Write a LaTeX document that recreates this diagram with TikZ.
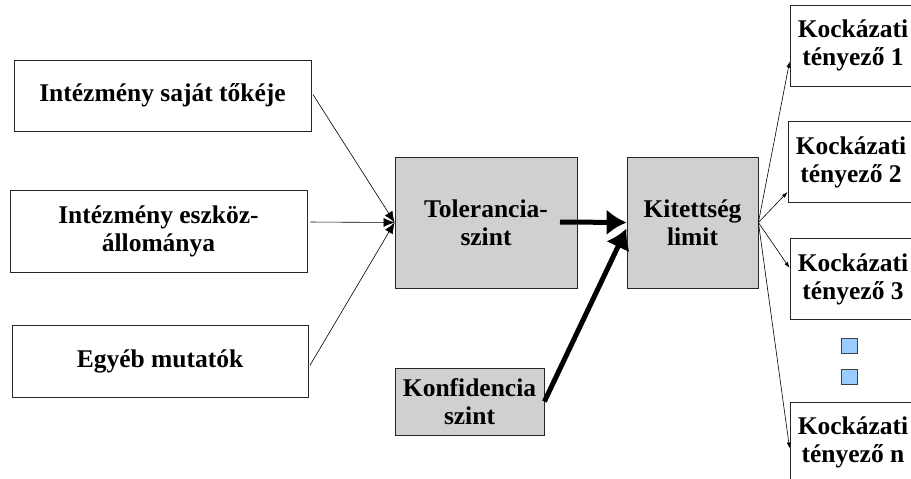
\documentclass[tikz,border=0pt]{standalone}
\usepackage{fontspec}
\setmainfont{Liberation Serif}
\usetikzlibrary{arrows.meta}
\definecolor{boxgray}{HTML}{D0D0D0}
\definecolor{dotblue}{HTML}{99CCFF}
\begin{document}
\begin{tikzpicture}
  [x=1pt,y=-1pt,
   every node/.style={font=\bfseries\fontsize{25.5}{28}\selectfont,align=center,inner sep=0pt},
   whitebox/.style={rectangle,draw=black!85,line width=0.8pt,fill=white,minimum width=297pt},
   graybox/.style={rectangle,draw=black!85,line width=0.8pt,fill=boxgray},
   riskbox/.style={rectangle,draw=black!85,line width=0.8pt,fill=white,minimum width=126pt,minimum height=81pt},
   dotbox/.style={rectangle,draw=black!75,line width=0.6pt,fill=dotblue,minimum width=16pt,minimum height=15pt},
   thin/.style={-{Latex[length=11pt,width=9pt]},line width=0.6pt,shorten <=3pt},
   tiny/.style={-{Latex[length=6pt,width=4pt]},line width=0.6pt},
   thick/.style={-{Latex[length=20pt,width=26pt]},line width=5pt}]
    \useasboundingbox (0,0) rectangle (911,479);
    \clip (0,0) rectangle (911,479);

    \node (b1) [whitebox,minimum height=71pt] at (162.5,95.5) {Intézmény saját tőkéje};
    \node (b2) [whitebox,minimum height=82pt] at (158.5,231) {Intézmény eszköz-\\állománya};
    \node (b3) [whitebox,minimum height=72pt,minimum width=296pt] at (160,361) {Egyéb mutatók};

    \node (tol)  [graybox,minimum width=182pt,minimum height=131pt] at (486,222.5) {Tolerancia-\\szint};
    \node (kit)  [graybox,minimum width=131pt,minimum height=131pt] at (692.5,222.5) {Kitettség\\limit};
    \node (konf) [graybox,minimum width=149pt,minimum height=67pt] at (469.5,401.5) {Konfidencia\\szint};

    \node (k1) [riskbox] at (853,45.5)  {Kockázati\\tényező 1};
    \node (k2) [riskbox] at (851,162)   {Kockázati\\tényező 2};
    \node (k3) [riskbox] at (853,279)   {Kockázati\\tényező 3};
    \node (kn) [riskbox] at (853,442.5) {Kockázati\\tényező n};

    \node (d1) [dotbox] at (849.5,345.5) {};
    \node (d2) [dotbox] at (849.5,377)   {};

    \coordinate (tolout) at (560,222);

    \foreach \from/\dy in {b1/3.5,b2/9,b3/-7}
      \draw[thin] ([yshift=\dy pt]\from.east) -- (tol.west);

    \draw[thick] (tolout) -- (kit.west);
    \draw[thick] (konf.east) -- ([yshift=-6pt]kit.west);

    \foreach \to/\dy in {k1/-16,k2/-30,k3/11,kn/-6}
      \draw[tiny] (kit.east) -- ([yshift=\dy pt]\to.west);
  \end{tikzpicture}
\end{document}
